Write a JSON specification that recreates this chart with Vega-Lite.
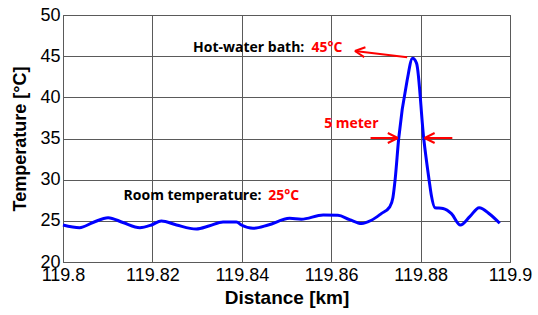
{
  "$schema": "https://vega.github.io/schema/vega-lite/v6.json",
  "width": 447,
  "height": 247,
  "autosize": {"type": "none"},
  "padding": {"left": 63, "top": 15, "right": 28, "bottom": 53},
  "background": "white",
  "config": {
    "view": {"stroke": "#444444", "strokeWidth": 1},
    "axis": {
      "labelFont": "Liberation Sans",
      "labelFontSize": 18,
      "labelColor": "#000000",
      "titleFont": "Liberation Sans",
      "titleFontWeight": "bold",
      "titleColor": "#000000",
      "ticks": false,
      "domain": false,
      "grid": true,
      "gridColor": "#5a5a5a",
      "gridWidth": 1,
      "gridOpacity": 1,
      "labelOverlap": false,
      "labelFlush": false,
      "labelBound": false
    }
  },
  "datasets": {
    "profile": [
      {"km": 119.8000, "temp": 24.49},
      {"km": 119.8037, "temp": 24.17},
      {"km": 119.8067, "temp": 24.80},
      {"km": 119.8101, "temp": 25.38},
      {"km": 119.8134, "temp": 24.80},
      {"km": 119.8172, "temp": 24.17},
      {"km": 119.8198, "temp": 24.50},
      {"km": 119.8220, "temp": 24.98},
      {"km": 119.8254, "temp": 24.49},
      {"km": 119.8298, "temp": 24.00},
      {"km": 119.8328, "temp": 24.40},
      {"km": 119.8358, "temp": 24.86},
      {"km": 119.8388, "temp": 24.86},
      {"km": 119.8399, "temp": 24.49},
      {"km": 119.8425, "temp": 24.09},
      {"km": 119.8459, "temp": 24.49},
      {"km": 119.8507, "temp": 25.30},
      {"km": 119.8533, "temp": 25.20},
      {"km": 119.8582, "temp": 25.70},
      {"km": 119.8615, "temp": 25.67},
      {"km": 119.8641, "temp": 25.15},
      {"km": 119.8668, "temp": 24.67},
      {"km": 119.8690, "temp": 25.07},
      {"km": 119.8712, "temp": 25.88},
      {"km": 119.8731, "temp": 26.70},
      {"km": 119.8738, "temp": 27.80},
      {"km": 119.8743, "temp": 30.00},
      {"km": 119.8751, "temp": 35.00},
      {"km": 119.8770, "temp": 42.10},
      {"km": 119.8782, "temp": 44.74},
      {"km": 119.8791, "temp": 44.13},
      {"km": 119.8807, "temp": 35.00},
      {"km": 119.8819, "temp": 29.96},
      {"km": 119.8824, "temp": 28.10},
      {"km": 119.8832, "temp": 26.60},
      {"km": 119.8850, "temp": 26.50},
      {"km": 119.8869, "temp": 25.88},
      {"km": 119.8889, "temp": 24.49},
      {"km": 119.8910, "temp": 25.50},
      {"km": 119.8931, "temp": 26.60},
      {"km": 119.8955, "temp": 25.80},
      {"km": 119.8977, "temp": 24.70}
    ],
    "captions": [
      {"km": 119.8540, "temp": 46.03, "text": "Hot-water bath:"},
      {"km": 119.8444, "temp": 28.02, "text": "Room temperature:"}
    ],
    "values": [
      {"km": 119.8556, "temp": 46.03, "text": "45°C"},
      {"km": 119.8459, "temp": 28.02, "text": "25°C"}
    ],
    "width_note": [
      {"km": 119.8645, "temp": 36.76, "text": "5 meter"}
    ],
    "arrows": [
      {"id": "bath", "km": 119.8770, "temp": 44.86, "km2": 119.8653, "temp2": 45.63},
      {"id": "left", "km": 119.8688, "temp": 35.06, "km2": 119.8749, "temp2": 35.06},
      {"id": "right", "km": 119.8871, "temp": 35.06, "km2": 119.8809, "temp2": 35.06}
    ]
  },
  "layer": [
    {
      "data": {"name": "profile"},
      "mark": {"type": "line", "color": "#0000ff", "strokeWidth": 3, "interpolate": "monotone"},
      "encoding": {
        "x": {
          "field": "km", "type": "quantitative",
          "scale": {"domain": [119.8, 119.9], "nice": false, "zero": false},
          "axis": {
            "title": "Distance [km]",
            "titleFontSize": 19,
            "titlePadding": 4,
            "labelPadding": 4,
            "values": [119.8, 119.82, 119.84, 119.86, 119.88, 119.9],
            "format": "~g"
          }
        },
        "y": {
          "field": "temp", "type": "quantitative",
          "scale": {"domain": [20, 50], "nice": false, "zero": false},
          "axis": {
            "title": "Temperature [°C]",
            "titleFontSize": 18,
            "titlePadding": 10,
            "labelPadding": 3,
            "values": [20, 25, 30, 35, 40, 45, 50]
          }
        }
      }
    },
    {
      "data": {"name": "arrows"},
      "mark": {"type": "rule", "color": "#ff0000", "strokeWidth": 2},
      "encoding": {
        "x": {"field": "km", "type": "quantitative"},
        "y": {"field": "temp", "type": "quantitative"},
        "x2": {"field": "km2"},
        "y2": {"field": "temp2"}
      }
    },
    {
      "data": {"name": "arrows"},
      "transform": [{"filter": "datum.id === 'bath'"}],
      "mark": {"type": "point", "shape": "M0,0L2,-1M0,0L2,1", "size": 100, "filled": false, "stroke": "#ff0000", "strokeWidth": 2, "opacity": 1, "angle": 7},
      "encoding": {
        "x": {"field": "km2", "type": "quantitative"},
        "y": {"field": "temp2", "type": "quantitative"}
      }
    },
    {
      "data": {"name": "arrows"},
      "transform": [{"filter": "datum.id === 'right'"}],
      "mark": {"type": "point", "shape": "M0,0L2,-1M0,0L2,1", "size": 100, "filled": false, "stroke": "#ff0000", "strokeWidth": 2, "opacity": 1, "angle": 0},
      "encoding": {
        "x": {"field": "km2", "type": "quantitative"},
        "y": {"field": "temp2", "type": "quantitative"}
      }
    },
    {
      "data": {"name": "arrows"},
      "transform": [{"filter": "datum.id === 'left'"}],
      "mark": {"type": "point", "shape": "M0,0L2,-1M0,0L2,1", "size": 100, "filled": false, "stroke": "#ff0000", "strokeWidth": 2, "opacity": 1, "angle": 180},
      "encoding": {
        "x": {"field": "km2", "type": "quantitative"},
        "y": {"field": "temp2", "type": "quantitative"}
      }
    },
    {
      "data": {"name": "captions"},
      "mark": {"type": "text", "align": "right", "baseline": "middle", "font": "Open Sans", "fontWeight": "bold", "fontSize": 14, "color": "#000000"},
      "encoding": {
        "x": {"field": "km", "type": "quantitative"},
        "y": {"field": "temp", "type": "quantitative"},
        "text": {"field": "text"}
      }
    },
    {
      "data": {"name": "values"},
      "mark": {"type": "text", "align": "left", "baseline": "middle", "font": "Open Sans", "fontWeight": "bold", "fontSize": 14, "color": "#ff0000"},
      "encoding": {
        "x": {"field": "km", "type": "quantitative"},
        "y": {"field": "temp", "type": "quantitative"},
        "text": {"field": "text"}
      }
    },
    {
      "data": {"name": "width_note"},
      "mark": {"type": "text", "align": "center", "baseline": "middle", "font": "Open Sans", "fontWeight": "bold", "fontSize": 14, "color": "#ff0000"},
      "encoding": {
        "x": {"field": "km", "type": "quantitative"},
        "y": {"field": "temp", "type": "quantitative"},
        "text": {"field": "text"}
      }
    }
  ]
}
